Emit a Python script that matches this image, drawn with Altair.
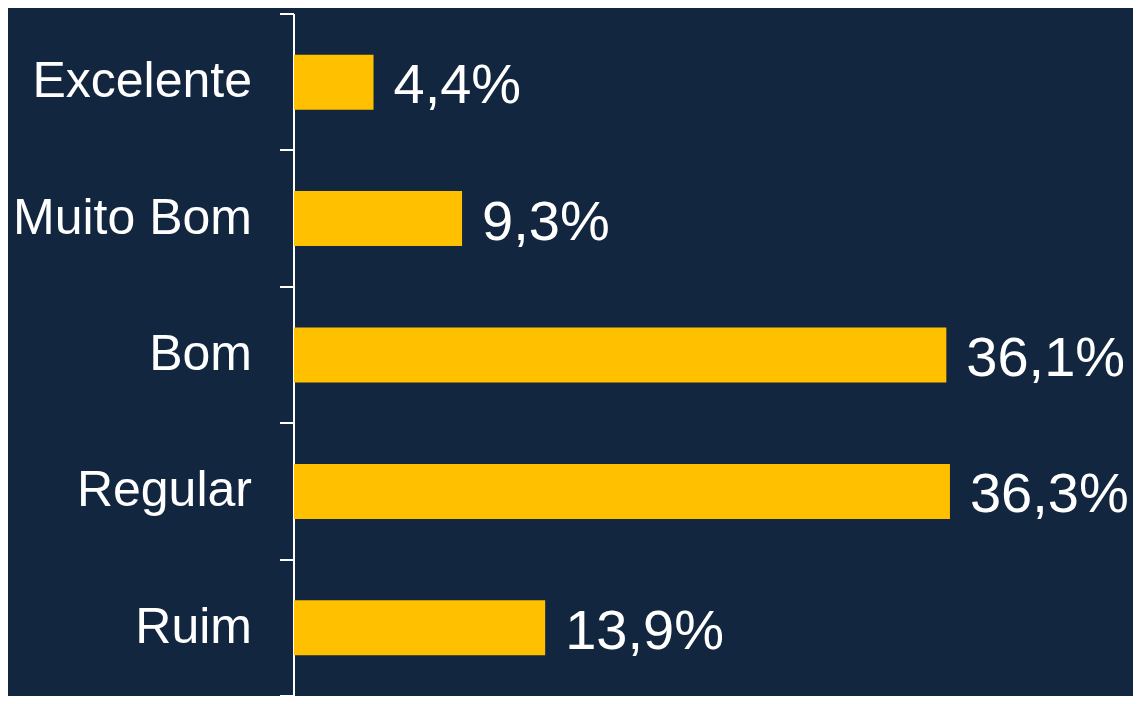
import altair as alt
import pandas as pd

categories = ["Excelente", "Muito Bom", "Bom", "Regular", "Ruim"]
values = [4.4, 9.3, 36.1, 36.3, 13.9]
labels = [f"{v:.1f}".replace(".", ",") + "%" for v in values]

df = pd.DataFrame({"cat": categories, "pct": values, "label": labels})

FONT = "Liberation Sans"

y_enc = alt.Y(
    "cat:N",
    sort=categories,
    scale=alt.Scale(paddingInner=0, paddingOuter=0),
    axis=alt.Axis(
        title=None,
        domainColor="#FFFFFF",
        domainWidth=2,
        tickColor="#FFFFFF",
        tickWidth=2,
        tickSize=14,
        tickBand="extent",
        translate=0,
        labelColor="white",
        labelFont=FONT,
        labelFontSize=50,
        labelPadding=28,
        labelLimit=400,
        grid=False,
    ),
)
x_enc = alt.X("pct:Q", scale=alt.Scale(domain=[0, 46.43], nice=False, zero=True), axis=None)

bars = alt.Chart(df).mark_bar(color="#FFC000", size=55).encode(x=x_enc, y=y_enc)
text = alt.Chart(df).mark_text(
    align="left", baseline="middle", dx=20, dy=4, color="white", font=FONT, fontSize=56
).encode(x=x_enc, y=alt.Y("cat:N", sort=categories), text="label:N")

chart = (
    alt.layer(bars, text)
    .properties(
        width=839,
        height=682,
        autosize=alt.AutoSizeParams(type="none"),
        padding={"left": 286, "top": 6, "right": 0, "bottom": 0},
        background="#12263F",
    )
    .configure_view(stroke=None)
)

chart.save("out.html", embed_options={"renderer": "svg", "actions": False})
